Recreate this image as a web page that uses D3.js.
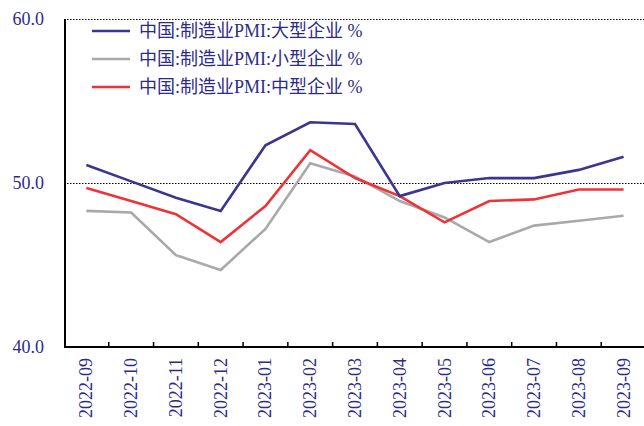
<!DOCTYPE html>
<html><head><meta charset="utf-8">
<script src="https://cdn.jsdelivr.net/npm/d3@7"></script>
<style>body{margin:0;background:#fff}svg{display:block}</style>
</head><body>
<svg id="c" width="644" height="426"></svg>
<script>
const categories = ["2022-09","2022-10","2022-11","2022-12","2023-01","2023-02","2023-03","2023-04","2023-05","2023-06","2023-07","2023-08","2023-09"];
const large = [51.1,50.1,49.1,48.3,52.3,53.7,53.6,49.2,50.0,50.3,50.3,50.8,51.6];
const small = [48.3,48.2,45.6,44.7,47.2,51.2,50.4,48.9,47.9,46.4,47.4,47.7,48.0];
const medium = [49.7,48.9,48.1,46.4,48.6,52.0,50.3,49.2,47.6,48.9,49.0,49.6,49.6];
const seriesNames = ["中国:制造业PMI:大型企业 %","中国:制造业PMI:小型企业 %","中国:制造业PMI:中型企业 %"];
const yTicks = [40,50,60];

const svg = d3.select("#c");
const x = d3.scaleBand().domain(categories).range([64,646]);
const y = d3.scaleLinear().domain([40,60]).range([347,19]);
const navy = "#2c2c88";
const font = "'Liberation Serif','Noto Sans CJK SC',serif";

// dotted reference lines
[60,50].forEach(v=>{
  svg.append("line").attr("x1",64).attr("x2",644).attr("y1",Math.round(y(v))+0.5).attr("y2",Math.round(y(v))+0.5)
    .attr("stroke","#000").attr("stroke-width",1.2).attr("stroke-dasharray","1.5,1.5");
});

// y labels
svg.selectAll(".yl").data(yTicks).enter().append("text")
  .attr("x",44).attr("y",d=>y(d)).attr("dy","0.35em").attr("text-anchor","end")
  .attr("font-family",font).attr("font-size",18).attr("fill",navy).text(d=>d.toFixed(1));

// axes
svg.append("line").attr("x1",65).attr("x2",65).attr("y1",19).attr("y2",348).attr("stroke","#000").attr("stroke-width",2);
svg.append("line").attr("x1",64).attr("x2",644).attr("y1",347).attr("y2",347).attr("stroke","#000").attr("stroke-width",2);
const tickPos = categories.slice(1).map(c=>x(c));
svg.selectAll(".tk").data(tickPos).enter().append("line")
  .attr("x1",d=>d).attr("x2",d=>d).attr("y1",347).attr("y2",342).attr("stroke","#000").attr("stroke-width",1.5);

// x labels
svg.selectAll(".xl").data(categories).enter().append("text")
  .attr("transform",d=>`translate(${x(d)+x.bandwidth()/2+6},358) rotate(-90)`)
  .attr("text-anchor","end").attr("font-family",font).attr("font-size",18).attr("fill",navy).text(d=>d);

// lines
const line = d3.line().x((d,i)=>x(categories[i])+x.bandwidth()/2).y(d=>y(d));
const series = [[large,"#3b3590"],[small,"#a9a9a9"],[medium,"#ee3338"]];
[series[1],series[2],series[0]].forEach(([data,col])=>{
  svg.append("path").attr("d",line(data)).attr("fill","none").attr("stroke",col).attr("stroke-width",2.6).attr("stroke-linejoin","miter");
});

// legend
seriesNames.forEach((n,i)=>{
  const yy = 31 + i*28;
  svg.append("line").attr("x1",92).attr("x2",130).attr("y1",yy).attr("y2",yy).attr("stroke",series[i][1]).attr("stroke-width",2.6);
  svg.append("text").attr("x",139).attr("y",yy).attr("dy","0.35em").attr("font-family",font).attr("font-size",18).attr("fill",navy).text(n);
});
</script>
</body></html>
